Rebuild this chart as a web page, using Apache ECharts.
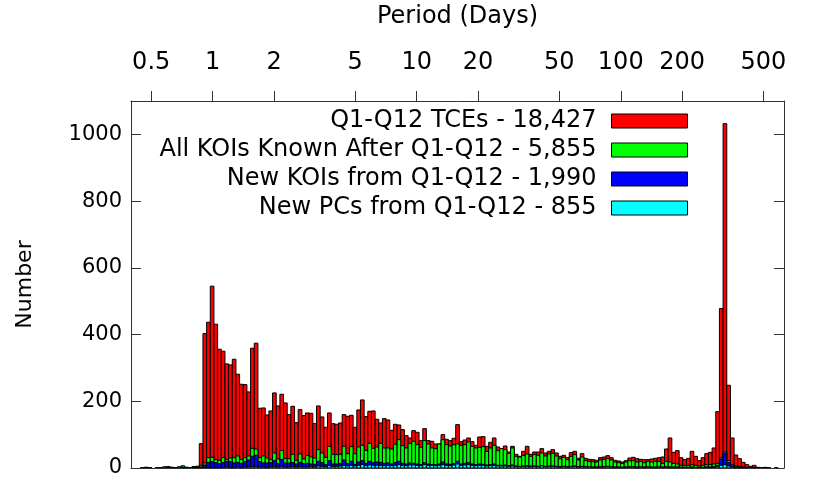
<!DOCTYPE html>
<html><head><meta charset="utf-8">
<script src="https://cdn.jsdelivr.net/npm/echarts@6/dist/echarts.min.js"></script>
<style>html,body{margin:0;padding:0;background:#fff}#c{width:830px;height:498px}</style>
</head><body><div id="c"></div>
<script>
// Period tick labels (days) on the top log axis
const periodTicks = [0.5, 1, 2, 5, 10, 20, 50, 100, 200, 500];
const countTicks = [0, 200, 400, 600, 800, 1000];
const seriesNames = [
  'Q1-Q12 TCEs - 18,427',
  'All KOIs Known After Q1-Q12 - 5,855',
  'New KOIs from Q1-Q12 - 1,990',
  'New PCs from Q1-Q12 - 855'
];
const seriesColors = ['#ff0000', '#00ff00', '#0000ff', '#00ffff'];
// histogram bins: uniform in log10(period)
const binFirstLeftLog = -0.3884;
const binWidthLog = 0.01795;

const tces = [
  0,0,1,2,1,0,1,1,3,4,2,1,3,6,2,1,4,5,
  73,403,437,545,431,356,350,312,309,326,281,251,250,228,359,374,179,180,159,171,225,186,221,195,160,185,136,175,157,
  165,164,133,186,153,122,165,133,131,135,160,155,158,122,174,204,154,170,171,146,135,148,144,113,131,129,115,97,90,
  112,107,82,118,82,80,72,72,100,86,82,89,130,79,84,90,79,68,93,94,65,77,90,63,58,66,48,65,41,35,50,65,41,
  48,48,58,45,50,55,45,35,38,31,46,50,29,43,29,26,25,23,31,33,37,31,23,21,18,22,30,32,28,26,25,25,27,29,31,
  33,57,90,47,52,31,25,29,50,35,22,31,43,47,60,169,478,1032,248,90,39,28,17,10,5,8,2,1,2,1,0,1,0,0,0
];
const allKois = [
  0,0,1,2,1,0,1,1,3,4,2,1,3,6,2,1,4,5,
  8,15,31,32,25,23,31,25,30,31,36,26,31,36,59,57,31,36,30,25,45,27,53,28,28,41,23,42,27,
  37,33,30,55,45,32,65,41,40,41,65,43,64,43,63,68,53,74,59,63,74,60,60,57,71,85,67,60,74,
  80,70,62,82,72,60,58,72,85,70,66,70,72,68,70,78,65,60,62,64,50,60,68,52,58,55,44,60,35,33,38,42,35,
  40,38,45,36,42,44,36,28,32,25,35,40,24,33,22,20,19,18,24,26,28,24,18,16,14,18,22,22,18,20,16,20,18,20,20,
  14,20,18,14,12,8,8,8,10,8,6,8,10,10,12,14,30,48,22,10,6,5,3,2,1,1,1,0,1,0,0,0,0,0,0
];
const newKois = [
  0,0,0,0,0,0,0,0,0,1,0,0,0,1,0,0,1,1,
  3,9,17,19,16,13,16,19,19,15,17,13,19,24,35,38,19,15,15,16,22,13,26,15,15,16,12,17,13,
  14,12,11,20,16,10,22,12,12,13,24,13,20,11,18,22,14,20,16,18,17,14,15,12,16,20,14,12,15,
  14,12,10,16,12,10,10,12,18,12,11,13,20,12,14,16,12,10,12,11,9,10,12,8,8,9,7,9,6,5,6,7,6,
  6,5,7,5,6,6,5,4,5,4,5,6,4,5,4,3,3,3,4,4,5,4,3,3,2,3,4,4,3,3,3,3,3,3,3,
  3,4,3,3,3,2,2,2,3,2,2,2,3,3,4,8,26,44,16,6,3,2,1,1,0,0,0,0,0,0,0,0,0,0,0
];
const newPcs = [
  0,0,0,0,0,0,0,0,0,0,0,0,0,0,0,0,0,0,
  0,1,2,2,2,2,2,3,2,2,3,2,3,3,4,4,3,3,2,3,4,3,4,3,3,4,3,4,3,
  3,4,3,6,5,4,7,5,5,6,8,6,8,6,8,10,7,9,8,8,8,7,8,7,8,10,8,7,9,
  9,8,7,10,8,8,7,8,10,8,7,9,12,8,9,10,8,7,8,8,6,7,8,6,6,6,5,6,4,4,5,5,4,
  5,4,6,4,5,5,4,3,4,3,4,5,3,4,3,3,2,2,3,3,4,3,2,2,2,2,3,3,2,3,2,3,2,2,3,
  2,3,2,2,2,2,1,1,2,1,1,1,2,2,2,4,8,10,6,3,1,1,0,0,0,0,0,0,0,0,0,0,0,0,0
];

const FONT = 'DejaVu Sans';
const FS = 24;
const allCounts = [tces, allKois, newKois, newPcs];

function toBins(arr) {
  const out = [];
  arr.forEach((v, i) => {
    if (v > 0) out.push([binFirstLeftLog + i * binWidthLog, binFirstLeftLog + (i + 1) * binWidthLog, v]);
  });
  return out;
}

const chart = echarts.init(document.getElementById('c'), null, {renderer: 'canvas'});
const frameColor = '#333';
const tickLogs = periodTicks.map(p => Math.log10(p));

chart.setOption({
  animation: false,
  backgroundColor: '#fff',
  grid: {left: 131, right: 46, top: 99, bottom: 30, containLabel: false},
  xAxis: [
    {
      type: 'value', position: 'top', min: -0.4, max: 2.8,
      name: 'Period (Days)', nameLocation: 'middle', nameGap: 72,
      nameTextStyle: {fontSize: FS, fontFamily: FONT, color: '#000'},
      axisLine: {show: true, onZero: false, lineStyle: {color: frameColor, width: 1}},
      axisTick: {show: true, inside: false, length: 10, customValues: tickLogs, lineStyle: {color: frameColor}},
      axisLabel: {show: true, customValues: tickLogs, margin: 26, fontSize: FS, fontFamily: FONT, color: '#000',
        formatter: v => { const p = Math.pow(10, v); return p < 1 ? p.toFixed(1) : String(Math.round(p)); }},
      splitLine: {show: false}
    },
    {
      type: 'value', position: 'bottom', min: -0.4, max: 2.8,
      axisLine: {show: true, onZero: false, lineStyle: {color: frameColor, width: 1}},
      axisTick: {show: false}, axisLabel: {show: false}, splitLine: {show: false}
    }
  ],
  yAxis: [
    {
      type: 'value', position: 'left', min: 0, max: 1100,
      name: 'Number', nameLocation: 'middle', nameGap: 95, nameRotate: 90,
      nameTextStyle: {fontSize: 22, fontFamily: FONT, color: '#000'},
      axisLine: {show: true, onZero: false, lineStyle: {color: frameColor, width: 1}},
      axisTick: {show: true, inside: true, length: 10, customValues: countTicks, lineStyle: {color: frameColor}},
      axisLabel: {show: true, customValues: countTicks, margin: 9, fontSize: 21, fontFamily: FONT, color: '#000',
        formatter: v => String(v)},
      splitLine: {show: false}
    },
    {
      type: 'value', position: 'right', min: 0, max: 1100,
      axisLine: {show: true, onZero: false, lineStyle: {color: frameColor, width: 1}},
      axisTick: {show: true, inside: true, length: 10, customValues: countTicks, lineStyle: {color: frameColor}},
      axisLabel: {show: false}, splitLine: {show: false}
    }
  ],
  legend: {
    orient: 'vertical', right: 142, top: 109, align: 'right', icon: 'rect',
    itemWidth: 76, itemHeight: 14, itemGap: 5, padding: 0,
    textStyle: {fontSize: FS, fontFamily: FONT, color: '#000', padding: [0, 10, 0, 0]},
    itemStyle: {borderColor: '#000', borderWidth: 1},
    data: seriesNames
  },
  series: allCounts.map((arr, k) => ({
    type: 'custom', name: seriesNames[k], xAxisIndex: 0, yAxisIndex: 0,
    itemStyle: {color: seriesColors[k]},
    clip: true,
    data: toBins(arr),
    encode: {x: [0, 1], y: 2},
    renderItem: (params, api) => {
      const p0 = api.coord([api.value(0), api.value(2)]);
      const p1 = api.coord([api.value(1), 0]);
      return {type: 'rect',
        shape: {x: p0[0], y: p0[1], width: p1[0] - p0[0], height: p1[1] - p0[1]},
        style: {fill: seriesColors[k], stroke: '#000', lineWidth: 1}};
    }
  }))
});
</script></body></html>
